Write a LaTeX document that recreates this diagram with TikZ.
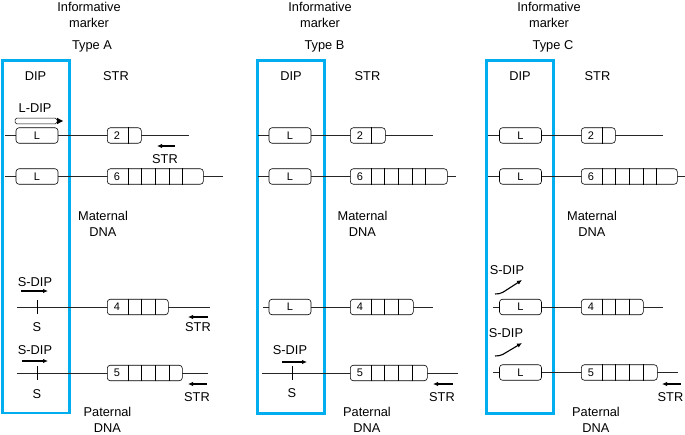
\documentclass[tikz,border=0pt]{standalone}
\usepackage{fontspec}
\setmainfont{Liberation Sans}
\usepackage{tikz}
\usetikzlibrary{positioning,arrows.meta}
\definecolor{dipblue}{RGB}{0,174,239}

% repeat block: name, left x, y, number of cells, total width
\newcommand{\repbox}[5]{%
  \node[rep, minimum width=#5] (#1) at (#2,#3) {};
  \node[lab] (#1n) at ([xshift=10]#1.west) {#4};
  \pgfmathtruncatemacro{\lastcell}{#4-1}
  \foreach \k in {1,...,\lastcell}
    \draw[thin line] ([xshift={21+(\k-1)*13.6}]#1.north west) -- ([xshift={21+(\k-1)*13.6}]#1.south west);
}

\begin{document}
\begin{tikzpicture}[x=1pt, y=-1pt,
  txt/.style = {font=\fontsize{12.8}{15.8}\selectfont, inner sep=0, align=center},
  lab/.style = {font=\fontsize{11}{13}\selectfont, inner sep=0},
  thin line/.style = {line width=0.6pt},
  dna/.style = {line width=0.6pt, black!85},
  lbox/.style = {draw, line width=0.6pt, rounded corners=3pt, fill=white, minimum width=42, minimum height=15.5, inner sep=0, font=\fontsize{11}{13}\selectfont},
  rep/.style = {draw, line width=0.6pt, rounded corners=3pt, fill=white, minimum height=15.5, inner sep=0, anchor=west},
  dipbox/.style = {draw=dipblue, line width=2.8pt, minimum width=67, minimum height=352.5, inner sep=0},
  sarr/.style = {line width=1.1pt, -{Latex[length=5pt,width=4.5pt]}}]
\useasboundingbox (0,0) rectangle (685,434);

% ---------- Type A ----------
\node[txt, anchor=north] (infA) at (89,1.8) {Informative\\marker};
\node[txt, anchor=base] (typA) at (92,49) {Type A};
\node[dipbox] (boxA) at (35.75,236.75) {};
\node[txt, anchor=base] (dipA) at (35.5,80) {DIP};
\node[txt, anchor=base] (strA) at (116,80) {STR};

\node[txt, anchor=base] (ldip) at (35,112) {L-DIP};
\coordinate (ldl) at (15,121);
\coordinate (ldr) at (57,121);
\draw[line width=0.5pt, rounded corners=1.5pt] ([yshift=-2.8]ldl) rectangle ([yshift=2.8]ldr);
\fill ([yshift=-3.2]ldr) -- ([xshift=6]ldr) -- ([yshift=3.2]ldr) -- cycle;

\coordinate (a1l) at (5,135.5);
\coordinate (a1r) at (189,135.5);
\draw[dna] (a1l) -- (a1r);
\node[lbox] (aL1) at (37,135.5) {L};
\repbox{a1}{107}{135.5}{2}{34}
\coordinate (as1) at (175,146);
\coordinate (ae1) at (157,146);
\draw[sarr] (as1) -- (ae1);
\node[txt, anchor=base] (astr1) at (165,163) {STR};

\coordinate (a2l) at (5,176.5);
\coordinate (a2r) at (223,176.5);
\draw[dna] (a2l) -- (a2r);
\node[lbox] (aL2) at (37,176.5) {L};
\repbox{a2}{107}{176.5}{6}{96}

\node[txt, anchor=north] (matA) at (103,211.5) {Maternal\\DNA};

\node[txt, anchor=base] (sdA3) at (35,286) {S-DIP};
\coordinate (ad3s) at (21,291);
\coordinate (ad3e) at (48,291);
\draw[sarr] (ad3s) -- (ad3e);
\coordinate (a3l) at (17,307);
\coordinate (a3r) at (210,307);
\draw[dna] (a3l) -- (a3r);
\coordinate (ak3t) at (37,300);
\coordinate (ak3b) at (37,314);
\draw[thin line] (ak3t) -- (ak3b);
\node[txt, anchor=base] (sA3) at (37,331.5) {S};
\repbox{a3}{107}{307}{4}{61}
\coordinate (as3) at (208,317);
\coordinate (ae3) at (188,317);
\draw[sarr] (as3) -- (ae3);
\node[txt, anchor=base] (astr3) at (198,331.5) {STR};

\node[txt, anchor=base] (sdA4) at (35,354) {S-DIP};
\coordinate (ad4s) at (22,361);
\coordinate (ad4e) at (48,361);
\draw[sarr] (ad4s) -- (ad4e);
\coordinate (a4l) at (17,373);
\coordinate (a4r) at (208,373);
\draw[dna] (a4l) -- (a4r);
\coordinate (ak4t) at (37,366);
\coordinate (ak4b) at (37,380);
\draw[thin line] (ak4t) -- (ak4b);
\node[txt, anchor=base] (sA4) at (37,398) {S};
\repbox{a4}{107}{373}{5}{75}
\coordinate (as4) at (207,384);
\coordinate (ae4) at (188,384);
\draw[sarr] (as4) -- (ae4);
\node[txt, anchor=base] (astr4) at (197,401) {STR};

\node[txt, anchor=north] (patA) at (107.5,407) {Paternal\\DNA};

% ---------- Type B ----------
\node[txt, anchor=north] (infB) at (320,1.8) {Informative\\marker};
\node[txt, anchor=base] (typB) at (324.5,49) {Type B};
\node[dipbox] (boxB) at (291,237) {};
\node[txt, anchor=base] (dipB) at (291,80) {DIP};
\node[txt, anchor=base] (strB) at (367.5,80) {STR};

\coordinate (b1l) at (258,135.5);
\coordinate (b1r) at (433,135.5);
\draw[dna] (b1l) -- (b1r);
\node[lbox] (bL1) at (290,135.5) {L};
\repbox{b1}{350}{135.5}{2}{35}

\coordinate (b2l) at (258,176.5);
\coordinate (b2r) at (456,176.5);
\draw[dna] (b2l) -- (b2r);
\node[lbox] (bL2) at (290,176.5) {L};
\repbox{b2}{350}{176.5}{6}{97}

\node[txt, anchor=north] (matB) at (362.5,211.5) {Maternal\\DNA};

\coordinate (b3l) at (263,307);
\coordinate (b3r) at (433,307);
\draw[dna] (b3l) -- (b3r);
\node[lbox] (bL3) at (290,307) {L};
\repbox{b3}{350}{307}{4}{63}

\node[txt, anchor=base] (sdB4) at (290,354.5) {S-DIP};
\coordinate (bd4s) at (282,362);
\coordinate (bd4e) at (307,362);
\draw[sarr] (bd4s) -- (bd4e);
\coordinate (b4l) at (262,373);
\coordinate (b4r) at (458,373);
\draw[dna] (b4l) -- (b4r);
\coordinate (bk4t) at (292,366);
\coordinate (bk4b) at (292,380);
\draw[thin line] (bk4t) -- (bk4b);
\node[txt, anchor=base] (sB4) at (292,397.5) {S};
\repbox{b4}{350}{373}{5}{77}
\coordinate (bs4) at (453,384);
\coordinate (be4) at (433,384);
\draw[sarr] (bs4) -- (be4);
\node[txt, anchor=base] (bstr4) at (442,401.5) {STR};

\node[txt, anchor=north] (patB) at (367,407) {Paternal\\DNA};

% ---------- Type C ----------
\node[txt, anchor=north] (infC) at (549,1.8) {Informative\\marker};
\node[txt, anchor=base] (typC) at (553,49) {Type C};
\node[dipbox] (boxC) at (520.2,237) {};
\node[txt, anchor=base] (dipC) at (520,80) {DIP};
\node[txt, anchor=base] (strC) at (597.5,80) {STR};

\coordinate (c1l) at (488,135.5);
\coordinate (c1r) at (663,135.5);
\draw[dna] (c1l) -- (c1r);
\node[lbox] (cL1) at (520.5,135.5) {L};
\repbox{c1}{581}{135.5}{2}{34}

\coordinate (c2l) at (488,176.5);
\coordinate (c2r) at (685,176.5);
\draw[dna] (c2l) -- (c2r);
\node[lbox] (cL2) at (520.5,176.5) {L};
\repbox{c2}{581}{176.5}{6}{96}

\node[txt, anchor=north] (matC) at (592,211.5) {Maternal\\DNA};

\node[txt, anchor=base] (sdC3) at (507,274.5) {S-DIP};
\coordinate (cd3s) at (495,294);
\coordinate (cd3e) at (522,280);
\draw[sarr, rounded corners=2pt] (cd3s) -- ++(6,-0.5) -- (cd3e);
\coordinate (c3l) at (493,307);
\coordinate (c3r) at (663,307);
\draw[dna] (c3l) -- (c3r);
\node[lbox] (cL3) at (520.5,307) {L};
\repbox{c3}{581}{307}{4}{62}

\node[txt, anchor=base] (sdC4) at (506,337.5) {S-DIP};
\coordinate (cd4s) at (495,356);
\coordinate (cd4e) at (522,343);
\draw[sarr, rounded corners=2pt] (cd4s) -- ++(6,-0.5) -- (cd4e);
\coordinate (c4l) at (493,372.5);
\coordinate (c4r) at (678,372.5);
\draw[dna] (c4l) -- (c4r);
\node[lbox] (cL4) at (520.5,372.5) {L};
\repbox{c4}{581}{372.5}{5}{76}
\coordinate (cs4) at (681,384);
\coordinate (ce4) at (662,384);
\draw[sarr] (cs4) -- (ce4);
\node[txt, anchor=base] (cstr4) at (670.5,401.5) {STR};

\node[txt, anchor=north] (patC) at (596,407) {Paternal\\DNA};
\end{tikzpicture}
\end{document}
